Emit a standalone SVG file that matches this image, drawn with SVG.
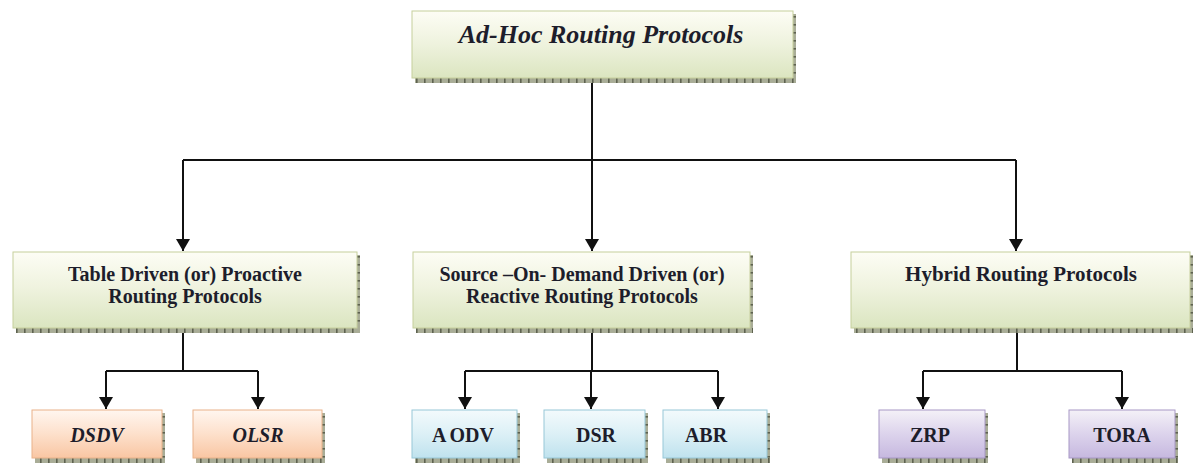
<svg xmlns="http://www.w3.org/2000/svg" width="1195" height="466" viewBox="0 0 1195 466">
<defs>
<linearGradient id="gGreen" x1="0" y1="0" x2="0" y2="1"><stop offset="0" stop-color="#fdfdf5"/><stop offset="0.5" stop-color="#eef2dd"/><stop offset="1" stop-color="#dbe5c0"/></linearGradient>
<linearGradient id="gOrange" x1="0" y1="0" x2="0" y2="1"><stop offset="0" stop-color="#fff6ef"/><stop offset="0.5" stop-color="#fde0cb"/><stop offset="1" stop-color="#f9c6a3"/></linearGradient>
<linearGradient id="gBlue" x1="0" y1="0" x2="0" y2="1"><stop offset="0" stop-color="#f3fafc"/><stop offset="0.5" stop-color="#dcf0f6"/><stop offset="1" stop-color="#bfe2ee"/></linearGradient>
<linearGradient id="gPurple" x1="0" y1="0" x2="0" y2="1"><stop offset="0" stop-color="#f4f1f8"/><stop offset="0.5" stop-color="#dcd3ec"/><stop offset="1" stop-color="#c6b8df"/></linearGradient>
<pattern id="tickH" width="8" height="6" patternUnits="userSpaceOnUse"><rect width="8" height="6" fill="#a9ad97"/><rect x="0" width="1.6" height="6" fill="#5e6250"/></pattern>
<pattern id="tickV" width="4" height="8" patternUnits="userSpaceOnUse"><rect width="4" height="8" fill="#a9ad97"/><rect y="0" width="4" height="1.6" fill="#5e6250"/></pattern>
<marker id="arr" markerUnits="userSpaceOnUse" markerWidth="14" markerHeight="14" refX="13" refY="7" orient="auto" viewBox="0 0 14 14">
<path d="M1,0 L13,7 L1,14 Z" fill="#111"/>
</marker>
<style>
.box{stroke-width:1}
.green{fill:url(#gGreen);stroke:#c6cf9c}
.orange{fill:url(#gOrange);stroke:#e9b28a}
.blue{fill:url(#gBlue);stroke:#98c8d8}
.purple{fill:url(#gPurple);stroke:#a898c6}
.sh{fill:url(#tickH)}
.sv{fill:url(#tickV)}
.c{fill:none;stroke:#111;stroke-width:2}
.a{fill:none;stroke:#111;stroke-width:2;marker-end:url(#arr)}
</style>
</defs>
<rect width="1195" height="466" fill="#ffffff"/>

<g id="connectors">
<path class="c" d="M592,83 V160 M183,160 H1016"/>
<path class="a" d="M183,160 V251"/>
<path class="a" d="M592,160 V251"/>
<path class="a" d="M1016,160 V251"/>
<path class="c" d="M183,333 V371 M106,371 H258"/>
<path class="a" d="M106,371 V409"/>
<path class="a" d="M258,371 V409"/>
<path class="c" d="M592,333 V371 M465,371 H718"/>
<path class="a" d="M465,371 V409"/>
<path class="a" d="M591,371 V409"/>
<path class="a" d="M718,371 V409"/>
<path class="c" d="M1017,333 V371 M923,371 H1122"/>
<path class="a" d="M923,371 V409"/>
<path class="a" d="M1122,371 V409"/>
</g>

<g id="root">
<rect class="sv" x="793" y="14" width="3" height="68"/>
<rect class="sh" x="415" y="78" width="381" height="5"/>
<rect class="box green" x="412" y="11" width="381" height="67"/>
<text x="601" y="43" fill="#1d1d2b" text-anchor="middle" font-size="26" font-weight="bold" font-style="italic" font-family="Liberation Serif">Ad-Hoc Routing Protocols</text>
</g>

<g id="proactive">
<rect class="sv" x="357" y="255" width="3" height="78"/>
<rect class="sh" x="16" y="328" width="344" height="5"/>
<rect class="box green" x="13" y="252" width="344" height="76"/>
<text x="185" y="280.5" fill="#1d1d2b" text-anchor="middle" font-size="20" font-weight="bold" font-family="Liberation Serif">Table Driven (or) Proactive</text>
<text x="185" y="303" fill="#1d1d2b" text-anchor="middle" font-size="20" font-weight="bold" font-family="Liberation Serif">Routing Protocols</text>
</g>

<g id="reactive">
<rect class="sv" x="750" y="255" width="3" height="78"/>
<rect class="sh" x="416" y="328" width="337" height="5"/>
<rect class="box green" x="413" y="252" width="337" height="76"/>
<text x="582" y="280.5" fill="#1d1d2b" text-anchor="middle" font-size="20" font-weight="bold" font-family="Liberation Serif">Source –On- Demand Driven (or)</text>
<text x="582" y="303" fill="#1d1d2b" text-anchor="middle" font-size="20" font-weight="bold" font-family="Liberation Serif">Reactive Routing Protocols</text>
</g>

<g id="hybrid">
<rect class="sv" x="1190" y="255" width="3" height="78"/>
<rect class="sh" x="854" y="328" width="339" height="5"/>
<rect class="box green" x="851" y="252" width="339" height="76"/>
<text x="1021" y="281" fill="#1d1d2b" text-anchor="middle" font-size="21" font-weight="bold" font-family="Liberation Serif">Hybrid Routing Protocols</text>
</g>

<g id="dsdv">
<rect class="sv" x="162" y="413" width="3" height="50"/>
<rect class="sh" x="35" y="458" width="130" height="5"/>
<rect class="box orange" x="32" y="410" width="130" height="48"/>
<text x="97" y="442" fill="#1d1d2b" text-anchor="middle" font-size="20" font-weight="bold" font-style="italic" font-family="Liberation Serif">DSDV</text>
</g>

<g id="olsr">
<rect class="sv" x="322" y="413" width="3" height="50"/>
<rect class="sh" x="196" y="458" width="129" height="5"/>
<rect class="box orange" x="193" y="410" width="129" height="48"/>
<text x="258" y="442" fill="#1d1d2b" text-anchor="middle" font-size="20" font-weight="bold" font-style="italic" font-family="Liberation Serif">OLSR</text>
</g>

<g id="aodv">
<rect class="sv" x="517" y="413" width="3" height="50"/>
<rect class="sh" x="415" y="458" width="105" height="5"/>
<rect class="box blue" x="412" y="410" width="105" height="48"/>
<text x="463" y="442" fill="#1d1d2b" text-anchor="middle" font-size="20" font-weight="bold" font-family="Liberation Serif">A<tspan dx="3">ODV</tspan></text>
</g>

<g id="dsr">
<rect class="sv" x="645" y="413" width="3" height="50"/>
<rect class="sh" x="547" y="458" width="101" height="5"/>
<rect class="box blue" x="544" y="410" width="101" height="48"/>
<text x="596" y="442" fill="#1d1d2b" text-anchor="middle" font-size="20" font-weight="bold" font-family="Liberation Serif">DSR</text>
</g>

<g id="abr">
<rect class="sv" x="767" y="413" width="3" height="50"/>
<rect class="sh" x="666" y="458" width="104" height="5"/>
<rect class="box blue" x="663" y="410" width="104" height="48"/>
<text x="706" y="442" fill="#1d1d2b" text-anchor="middle" font-size="20" font-weight="bold" font-family="Liberation Serif">ABR</text>
</g>

<g id="zrp">
<rect class="sv" x="985" y="413" width="3" height="50"/>
<rect class="sh" x="882" y="458" width="106" height="5"/>
<rect class="box purple" x="879" y="410" width="106" height="48"/>
<text x="930" y="442" fill="#1d1d2b" text-anchor="middle" font-size="20" font-weight="bold" font-family="Liberation Serif">ZRP</text>
</g>

<g id="tora">
<rect class="sv" x="1175" y="413" width="3" height="50"/>
<rect class="sh" x="1072" y="458" width="106" height="5"/>
<rect class="box purple" x="1069" y="410" width="106" height="48"/>
<text x="1122" y="442" fill="#1d1d2b" text-anchor="middle" font-size="20" font-weight="bold" font-family="Liberation Serif">TORA</text>
</g>
</svg>
